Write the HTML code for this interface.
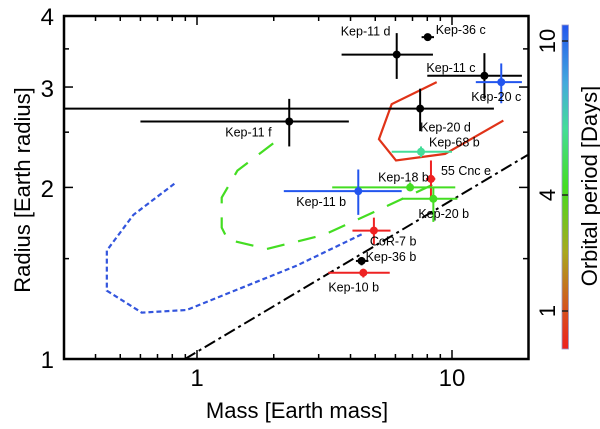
<!DOCTYPE html>
<html><head><meta charset="utf-8"><style>
body{margin:0;background:#fff}
svg{display:block;font-family:"Liberation Sans",Arial,sans-serif}
</style></head><body>
<svg id="chart" width="600" height="429" viewBox="0 0 600 429">
<defs>
<linearGradient id="cb" x1="0" y1="1" x2="0" y2="0">
<stop offset="0" stop-color="#ee2020"/>
<stop offset="0.12" stop-color="#d65020"/>
<stop offset="0.3" stop-color="#a8a820"/>
<stop offset="0.5" stop-color="#44dd22"/>
<stop offset="0.68" stop-color="#44dd99"/>
<stop offset="0.82" stop-color="#44aadd"/>
<stop offset="1" stop-color="#2255ee"/>
</linearGradient>
</defs>
<g id="curves"></g>
<g id="points"></g>
<rect x="64" y="16" width="464.5" height="343" fill="none" stroke="#000" stroke-width="2.5"/>
<g id="ticks"></g>
<g font-size="24" text-anchor="end">
<text x="54" y="25">4</text>
<text x="54" y="97">3</text>
<text x="54" y="197">2</text>
<text x="54" y="368">1</text>
</g>
<g font-size="24" text-anchor="middle">
<text x="197" y="386">1</text>
<text x="452" y="386">10</text>
</g>
<text x="297" y="418" font-size="22" text-anchor="middle">Mass [Earth mass]</text>
<text transform="translate(30,190) rotate(-90)" font-size="22" text-anchor="middle">Radius [Earth radius]</text>
<rect x="562" y="25" width="6.5" height="324" fill="url(#cb)" stroke="#9999cc" stroke-width="0.8"/>
<g stroke="#222" stroke-width="1.5">
<line x1="562" y1="41" x2="568" y2="41"/><line x1="562" y1="195" x2="568" y2="195"/><line x1="562" y1="311" x2="568" y2="311"/>
</g>
<g font-size="22" text-anchor="middle">
<text transform="translate(555,41) rotate(-90)">10</text>
<text transform="translate(555,195) rotate(-90)">4</text>
<text transform="translate(555,311) rotate(-90)">1</text>
</g>
<text transform="translate(597,186) rotate(-90)" font-size="22" text-anchor="middle">Orbital period [Days]</text>
</svg>
<script>
const names=["Kep-36 c","Kep-11 d","Kep-11 c","Kep-20 c","Kep-20 d","Kep-11 f","Kep-68 b","55 Cnc e","Kep-18 b","Kep-11 b","Kep-20 b","CoR-7 b","Kep-36 b","Kep-10 b"];
const mass=[8.03,6.07,13.4,15.6,7.5,2.30,7.56,8.27,6.85,4.29,8.45,4.94,4.42,4.49];
const massLo=[7.6,3.69,8.0,12.4,0.3,0.60,5.8,7.9,3.39,2.19,6.35,4.07,4.2,3.27];
const massHi=[8.5,8.42,18.8,18.8,14.6,3.94,10.0,8.6,10.3,6.35,10.5,5.74,4.7,5.7];
const radius=[3.67,3.42,3.14,3.06,2.75,2.61,2.31,2.07,2.0,1.97,1.91,1.68,1.486,1.417];
const radLo=[3.62,3.10,2.86,2.81,2.51,2.36,2.26,1.90,1.97,1.79,1.74,1.59,1.46,1.39];
const radHi=[3.72,3.73,3.44,3.30,2.98,2.86,2.36,2.23,2.04,2.15,2.0,1.77,1.51,1.44];
const colors=["#000","#000","#000","#2255ee","#000","#000","#44dd99","#ee2222","#44dd22","#2255ee","#44dd22","#ee2222","#000","#ee2222"];
const labelDx=[8,-56,-58,-30,0,-64,8,10,-32,-62,-15,-4,4,-35];
const labelDy=[-3,-19,-4,19,23,15,-5,-4,-6,15,19,15,0,19];
const redM1=[8.71,5.80,5.17,6.03,9.39,15.9];
const redR1=[3.06,2.80,2.43,2.23,2.29,2.62];
const greenM=[1.99,1.44,1.25,1.25,1.32,1.88,3.13,5.07,8.97];
const greenR=[2.39,2.14,1.92,1.70,1.62,1.56,1.65,1.82,2.05];
const blueM=[0.815,0.563,0.443,0.443,0.607,0.911,2.46,4.49];
const blueR=[2.03,1.79,1.55,1.318,1.206,1.219,1.458,1.66];
const lineM=[0.897,19.8];
const lineR=[1.0,2.28];
const NS="http://www.w3.org/2000/svg";
const X=m=>197+255*Math.log10(m);
const Y=r=>359-570*Math.log10(r);
function mk(tag,attrs,parent){const e=document.createElementNS(NS,tag);for(const k in attrs)e.setAttribute(k,attrs[k]);parent.appendChild(e);return e;}
const cg=document.getElementById('curves');
function poly(ms,rs,stroke,w,dash,name){
  const p=mk('polyline',{points:ms.map((m,i)=>X(m)+','+Y(rs[i])).join(' '),fill:'none',stroke:stroke,'stroke-width':w,'stroke-dasharray':dash},cg);
  
  
}
poly(lineM,lineR,'#000',2,'12,4,3,4','composition-line');
poly(redM1,redR1,'#e03318',2.2,'none','red-model-curve');
poly(greenM,greenR,'#44dd22',2.2,'18,14','green-model-curve');
poly(blueM,blueR,'#3355dd',2.2,'5,3','blue-model-curve');
const pg=document.getElementById('points');
names.forEach((n,i)=>{
  const g=mk('g',{},pg);
  
  
  const c=colors[i],x=X(mass[i]),y=Y(radius[i]);
  mk('line',{x1:Math.max(64,X(massLo[i])),x2:Math.min(528,X(massHi[i])),y1:y,y2:y,stroke:c,'stroke-width':2},g);
  mk('line',{x1:x,x2:x,y1:Y(radLo[i]),y2:Y(radHi[i]),stroke:c,'stroke-width':2},g);
  mk('circle',{cx:x,cy:y,r:4,fill:c},g);
  const t=mk('text',{x:x+labelDx[i],y:y+labelDy[i],'font-size':12.5},g);
  t.textContent=n;
});
const tg=document.getElementById('ticks');
function tk(x1,y1,x2,y2){mk('line',{x1,y1,x2,y2,stroke:'#000','stroke-width':1.5},tg);}
[0.4,0.5,0.6,0.7,0.8,0.9,2,3,4,5,6,7,8,9].forEach(m=>{const x=X(m);tk(x,359,x,354);tk(x,16,x,21);});
[1,10].forEach(m=>{const x=X(m);tk(x,359,x,350);tk(x,16,x,25);});
[1.5,2.5,3.5].forEach(r=>{const y=Y(r);tk(64,y,69,y);tk(528,y,523,y);});
[2,3].forEach(r=>{const y=Y(r);tk(64,y,73,y);tk(528,y,519,y);});
</script>
</body></html>
